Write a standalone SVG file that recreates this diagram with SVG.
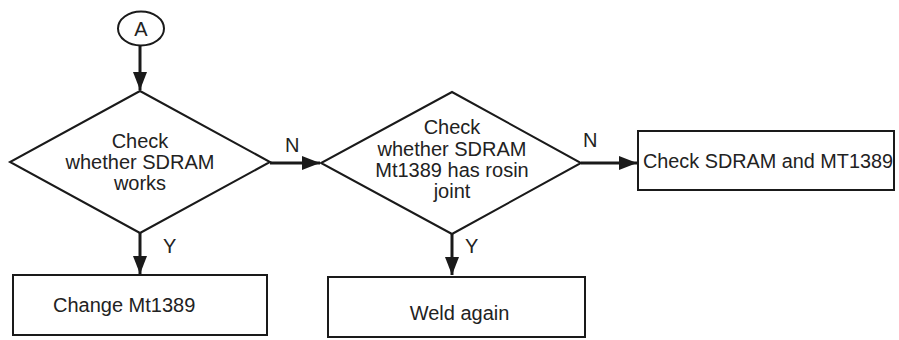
<svg xmlns="http://www.w3.org/2000/svg" width="899" height="340" viewBox="0 0 899 340">
<style>
.shape{fill:#fff;stroke:#1a1a1a;stroke-width:2}
.t{font-family:"Liberation Sans",Arial,sans-serif;font-size:20px;fill:#222;text-anchor:middle}
.tl{font-family:"Liberation Sans",Arial,sans-serif;font-size:20px;fill:#222}
.c{stroke:#1a1a1a;stroke-width:3;fill:none}
</style>
<defs>
<marker id="ah" markerUnits="userSpaceOnUse" markerWidth="18" markerHeight="14" refX="18" refY="7" orient="auto">
<polygon points="0,0 18,7 0,14" fill="#1a1a1a"/>
</marker>
</defs>
<g id="connectors">
<line class="c" x1="140" y1="46" x2="140" y2="90" marker-end="url(#ah)"/>
<line class="c" x1="140" y1="233" x2="140" y2="274" marker-end="url(#ah)"/>
<line class="c" x1="270" y1="163" x2="320" y2="163" marker-end="url(#ah)"/>
<line class="c" x1="452" y1="234" x2="452" y2="275" marker-end="url(#ah)"/>
<line class="c" x1="581" y1="163" x2="637" y2="163" marker-end="url(#ah)"/>
<text class="tl" x="285" y="152">N</text>
<text class="tl" x="163" y="253">Y</text>
<text class="tl" x="583" y="147">N</text>
<text class="tl" x="465" y="253">Y</text>
</g>
<g id="nodeA">
<ellipse class="shape" cx="141" cy="28.5" rx="23" ry="17"/>
<text class="t" x="141" y="36">A</text>
</g>
<g id="decision1">
<polygon class="shape" points="140,91 270,162 140,233 10,162"/>
<text class="t" x="140" y="148">Check</text>
<text class="t" x="140" y="169">whether SDRAM</text>
<text class="t" x="140" y="190">works</text>
</g>
<g id="decision2">
<polygon class="shape" points="452,92 581,163 452,234 321,163"/>
<text class="t" x="452" y="134">Check</text>
<text class="t" x="452" y="156">whether SDRAM</text>
<text class="t" x="452" y="177">Mt1389 has rosin</text>
<text class="t" x="452" y="198">joint</text>
</g>
<g id="box1">
<rect class="shape" x="13" y="275" width="254" height="60"/>
<text class="tl" x="53" y="312">Change Mt1389</text>
</g>
<g id="box2">
<rect class="shape" x="328" y="277" width="257" height="60"/>
<text class="t" x="459.5" y="320">Weld again</text>
</g>
<g id="box3">
<rect class="shape" x="638" y="131" width="256" height="59"/>
<text class="tl" x="643" y="168" textLength="250" lengthAdjust="spacingAndGlyphs">Check SDRAM and MT1389</text>
</g>
</svg>
